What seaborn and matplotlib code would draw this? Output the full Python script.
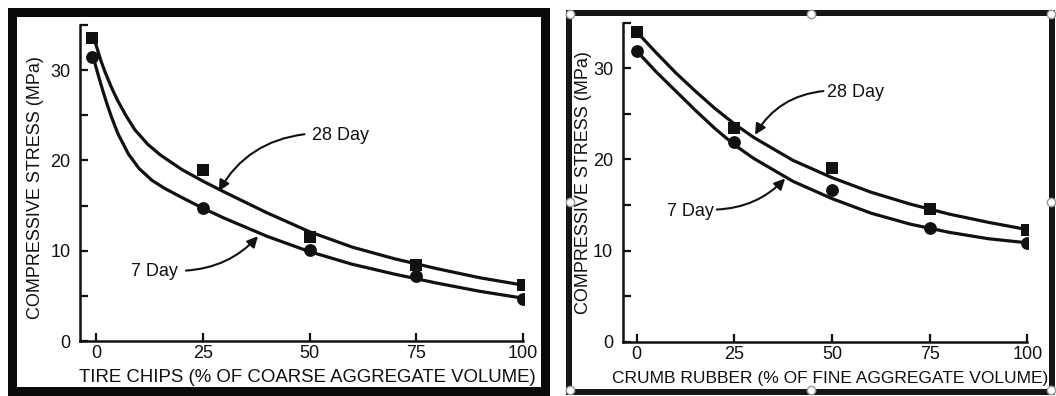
import matplotlib
matplotlib.use("Agg")
import matplotlib.pyplot as plt
import matplotlib.patches as mpatches
import matplotlib.lines as mlines
import seaborn as sns

# ---------------- data ----------------
# Left panel: tire chips
tc_x = [-1, 25, 50, 75, 100]
tc_28 = [33.6, 18.9, 11.5, 8.45, 6.2]
tc_7 = [31.5, 14.7, 10.1, 7.2, 4.7]
tc_fit28_x = [-0.5, 1, 2, 3.5, 5, 7, 9, 12, 15, 20, 25, 30, 40, 50, 60, 70, 80, 90, 100]
tc_fit28_y = [33.4, 31.1, 29.8, 28.1, 26.6, 24.9, 23.4, 21.8, 20.6, 19.0, 17.7, 16.5, 14.2, 12.1, 10.4, 9.1, 8.0, 7.0, 6.2]
tc_fit7_x = [-0.75, 0.5, 1.5, 2.5, 3.6, 5, 7.5, 10, 13, 16, 20, 25, 30, 40, 50, 60, 70, 80, 90, 100]
tc_fit7_y = [31.4, 29.3, 27.7, 26.2, 24.7, 23.0, 20.7, 19.1, 17.8, 16.9, 15.9, 14.7, 13.6, 11.6, 9.9, 8.5, 7.4, 6.4, 5.5, 4.75]

# Right panel: crumb rubber
cr_x = [0, 25, 50, 75, 100]
cr_28 = [34.0, 23.4, 19.1, 14.6, 12.3]
cr_7 = [31.9, 21.95, 16.65, 12.45, 10.87]
cr_fit_x = [0, 5, 10, 15, 20, 25, 30, 40, 50, 60, 70, 80, 90, 100]
cr_fit28_y = [34.0, 31.7, 29.5, 27.5, 25.6, 23.9, 22.4, 19.9, 18.0, 16.4, 15.1, 14.0, 13.1, 12.3]
cr_fit7_y = [31.9, 29.6, 27.5, 25.4, 23.4, 21.6, 20.1, 17.6, 15.7, 14.1, 12.9, 12.0, 11.3, 10.85]

x_ticks = [0, 25, 50, 75, 100]
y_ticks = [0, 5, 10, 15, 20, 25, 30, 35]
y_labels = ["0", "", "10", "", "20", "", "30", ""]

xlabel_left = "TIRE CHIPS (% OF COARSE AGGREGATE VOLUME)"
xlabel_right = "CRUMB RUBBER (% OF FINE AGGREGATE VOLUME)"
ylabel = "COMPRESSIVE STRESS (MPa)"
lab28 = "28 Day"
lab7 = "7 Day"

# ---------------- style ----------------
sns.set_style("ticks")
plt.rcParams["font.family"] = ["Liberation Sans", "DejaVu Sans"]
INK = "#111111"
FS = 13

W, H = 1056, 396
fig = plt.figure(figsize=(W / 100, H / 100), dpi=100)
fig.patch.set_facecolor("white")


def fx(px):
    return px / W


def fy(py):
    return 1 - py / H


def make_axes(x0, x1, ytop, ybot):
    return fig.add_axes([fx(x0), fy(ybot), fx(x1) - fx(x0), fy(ytop) - fy(ybot)])


axL = make_axes(80, 523.5, 25, 341)
axR = make_axes(622.7, 1027.7, 22.7, 341.7)


def draw_panel(ax, xs, y28, y7, fx28, fy28, fx7, fy7, xlim, xlabel, xfs, lab_xy):
    sns.lineplot(x=fx28, y=fy28, ax=ax, color=INK, lw=2.3, sort=False, estimator=None)
    sns.lineplot(x=fx7, y=fy7, ax=ax, color=INK, lw=2.3, sort=False, estimator=None)
    sns.scatterplot(x=xs, y=y28, ax=ax, marker="s", s=75, color=INK, edgecolor=INK, linewidth=0, zorder=5)
    sns.scatterplot(x=xs, y=y7, ax=ax, marker="o", s=85, color=INK, edgecolor=INK, linewidth=0, zorder=5)
    ax.set_xlim(*xlim)
    ax.set_ylim(0, 35)
    ax.set_xticks(x_ticks)
    ax.set_xticklabels([str(t) for t in x_ticks], fontsize=FS, color=INK)
    ax.set_yticks(y_ticks)
    ax.set_yticklabels(y_labels, fontsize=FS, color=INK)
    ax.tick_params(direction="in", length=6, width=1.6, color=INK)
    ax.tick_params(axis="y", pad=7)
    ax.tick_params(axis="x", pad=3)
    for s in ["top", "right"]:
        ax.spines[s].set_visible(False)
    for s in ["left", "bottom"]:
        ax.spines[s].set_linewidth(1.8)
        ax.spines[s].set_color(INK)
    ax.spines["bottom"].set_bounds(xlim[0], 100)
    ax.set_xlabel(xlabel, fontsize=xfs, color=INK, va="center")
    ax.set_ylabel(ylabel, fontsize=FS, color=INK, va="center")
    ax.patch.set_alpha(0)
    (t28, a28s, a28e, r28), (t7, a7s, a7e, r7) = lab_xy
    ax.text(t28[0], t28[1], lab28, fontsize=FS, color=INK, ha="left", va="center")
    ax.annotate("", xy=a28e, xytext=a28s,
                arrowprops=dict(arrowstyle="-|>", connectionstyle=f"arc3,rad={r28}",
                                color=INK, lw=1.5, mutation_scale=16, shrinkA=0, shrinkB=0))
    ax.text(t7[0], t7[1], lab7, fontsize=FS, color=INK, ha="left", va="center")
    ax.annotate("", xy=a7e, xytext=a7s,
                arrowprops=dict(arrowstyle="-|>", connectionstyle=f"arc3,rad={r7}",
                                color=INK, lw=1.5, mutation_scale=16, shrinkA=0, shrinkB=0))


draw_panel(axL, tc_x, tc_28, tc_7, tc_fit28_x, tc_fit28_y, tc_fit7_x, tc_fit7_y,
           (-3.87, 100.2), xlabel_left, 13.4,
           (((50.6, 22.8), (48.8, 22.9), (28.7, 16.6), 0.25),
            ((8.2, 7.7), (21.0, 7.8), (37.9, 11.6), 0.2)))
draw_panel(axR, cr_x, cr_28, cr_7, cr_fit_x, cr_fit28_y, cr_fit_x, cr_fit7_y,
           (-3.58, 100.1), xlabel_right, 12.5,
           (((48.6, 27.3), (47.8, 27.5), (30.3, 22.7), 0.25),
            ((7.7, 14.3), (20.5, 14.5), (38.0, 17.9), 0.2)))

axL.yaxis.set_label_coords(-0.101, 0.486)
axL.xaxis.set_label_coords(0.512, -0.117)
axR.yaxis.set_label_coords(-0.0956, 0.499)
axR.xaxis.set_label_coords(0.511, -0.115)

# ---------------- frames ----------------
def frame(x0, y0, x1, y1, lw_px, color):
    r = mpatches.Rectangle((fx(x0), fy(y1)), fx(x1) - fx(x0), fy(y0) - fy(y1),
                           transform=fig.transFigure, fill=False,
                           lw=lw_px * 0.72, edgecolor=color, zorder=-1)
    fig.add_artist(r)


frame(12, 12, 545, 391, 9, "#0a0a0a")
frame(568.5, 12.5, 1052, 392, 6, "#151515")

for (hx, hy) in [(570, 14), (811, 14), (1051, 14), (570, 202), (1051, 202),
                 (570, 390), (811, 390), (1051, 390)]:
    fig.add_artist(mlines.Line2D([fx(hx)], [fy(hy)], marker="o", markersize=6,
                                 mfc="white", mec="#9a9a9a", mew=1.0,
                                 transform=fig.transFigure, zorder=10))

fig.savefig("out.png", dpi=100, facecolor="white")
